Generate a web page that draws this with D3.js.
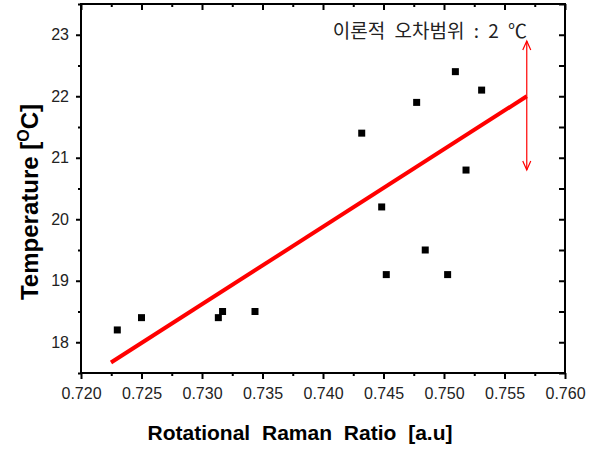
<!DOCTYPE html>
<html>
<head>
<meta charset="utf-8">
<script src="https://cdn.jsdelivr.net/npm/d3@7"></script>
<style>
  body { margin:0; background:#fff; }
  svg text { font-family: "Liberation Sans", Arial, sans-serif; }
</style>
</head>
<body>
<div id="chart"></div>
<script>
// Rotational Raman Ratio vs. Temperatur – Streudiagramm mit Fit-Gerade
const ratio = [0.7230, 0.7250, 0.73135, 0.7317, 0.73438, 0.7432, 0.74485, 0.74523,
               0.74774, 0.74845, 0.7503, 0.75094, 0.75182, 0.75311];
const temp  = [18.2, 18.4, 18.4, 18.5, 18.5, 21.4, 20.2, 19.1,
               21.9, 19.5, 19.1, 22.4, 20.8, 22.1];

const fitX = [0.72248, 0.75684];
const fitY = [17.67, 22.0];

const errX  = 0.75684;
const errY  = [20.8, 22.9];
const errLabel = '이론적 오차범위 : 2 ℃';

const xTicks = [0.720, 0.725, 0.730, 0.735, 0.740, 0.745, 0.750, 0.755, 0.760];
const yTicks = [18, 19, 20, 21, 22, 23];
const xMinor = [0.7225, 0.7275, 0.7325, 0.7375, 0.7425, 0.7475, 0.7525, 0.7575];
const yMinor = [17.5, 18.5, 19.5, 20.5, 21.5, 22.5, 23.5];

const W = 597, H = 449;
const L = 81, R = 565, T = 4, B = 373;

const svg = d3.select('#chart').append('svg')
  .attr('width', W).attr('height', H);

const x = d3.scaleLinear().domain([0.720, 0.760]).range([L, R]);
const y = d3.scaleLinear().domain([17.5, 23.5]).range([B, T]);

// Achsen (links/unten nach außen, oben/rechts nach innen)
function styleAxis(g) {
  g.select('.domain').remove();
  g.selectAll('line').attr('stroke', '#000').attr('stroke-width', 2);
  g.selectAll('text').attr('font-size', 16).attr('fill', '#222');
}

svg.append('g').attr('transform', `translate(0,${B})`)
  .call(d3.axisBottom(x).tickValues(xTicks).tickSize(6).tickPadding(9).tickFormat(d3.format('.3f')))
  .call(styleAxis);
svg.append('g').attr('transform', `translate(0,${B})`)
  .call(d3.axisBottom(x).tickValues(xMinor).tickSize(3).tickFormat(''))
  .call(styleAxis);

svg.append('g').attr('transform', `translate(${L},0)`)
  .call(d3.axisLeft(y).tickValues(yTicks).tickSize(5).tickPadding(7).tickFormat(d3.format('d')))
  .call(styleAxis);
svg.append('g').attr('transform', `translate(${L},0)`)
  .call(d3.axisLeft(y).tickValues(yMinor).tickSize(3).tickFormat(''))
  .call(styleAxis);

svg.append('g').attr('transform', `translate(0,${T})`)
  .call(d3.axisBottom(x).tickValues(xTicks).tickSize(6).tickFormat(''))
  .call(styleAxis);
svg.append('g').attr('transform', `translate(0,${T})`)
  .call(d3.axisBottom(x).tickValues(xMinor).tickSize(3).tickFormat(''))
  .call(styleAxis);

svg.append('g').attr('transform', `translate(${R},0)`)
  .call(d3.axisLeft(y).tickValues(yTicks.concat(yMinor)).tickSize(6).tickFormat(''))
  .call(styleAxis);

// Rahmen
svg.append('rect')
  .attr('x', L).attr('y', T).attr('width', R - L).attr('height', B - T)
  .attr('fill', 'none').attr('stroke', '#000').attr('stroke-width', 2);

// Fit-Gerade
svg.append('line')
  .attr('x1', x(fitX[0])).attr('y1', y(fitY[0]))
  .attr('x2', x(fitX[1])).attr('y2', y(fitY[1]))
  .attr('stroke', '#ff0000').attr('stroke-width', 4);

// Messpunkte
svg.selectAll('rect.pt')
  .data(d3.zip(ratio, temp))
  .enter().append('rect')
    .attr('class', 'pt')
    .attr('x', d => x(d[0]) - 3.5)
    .attr('y', d => y(d[1]) - 3.5)
    .attr('width', 7).attr('height', 7)
    .attr('fill', '#000');

// Fehlerbereich-Pfeil
const ax = x(errX), ay0 = y(errY[0]), ay1 = y(errY[1]);
svg.append('line')
  .attr('x1', ax).attr('y1', ay0).attr('x2', ax).attr('y2', ay1)
  .attr('stroke', '#ff0000').attr('stroke-width', 1.2);
svg.append('path')
  .attr('d', `M${ax-4},${ay1+9}L${ax},${ay1}L${ax+4},${ay1+9}M${ax-4},${ay0-9}L${ax},${ay0}L${ax+4},${ay0-9}`)
  .attr('fill', 'none').attr('stroke', '#ff0000').attr('stroke-width', 1.2);

svg.append('text')
  .attr('x', 527).attr('y', 38)
  .attr('text-anchor', 'end')
  .style('font-family', '"Noto Sans CJK KR", sans-serif')
  .attr('font-size', 19).attr('fill', '#222')
  .attr('word-spacing', 5)
  .text(errLabel);

// Achsentitel
svg.append('text')
  .attr('x', 300).attr('y', 440)
  .attr('text-anchor', 'middle')
  .attr('font-size', 21).attr('font-weight', 'bold')
  .attr('word-spacing', 6)
  .text('Rotational Raman Ratio [a.u]');

const yl = svg.append('text')
  .attr('transform', 'translate(38,202) rotate(-90)')
  .attr('text-anchor', 'middle')
  .attr('font-size', 24).attr('font-weight', 'bold');
yl.append('tspan').text('Temperature [');
yl.append('tspan').attr('font-size', 16).attr('dy', -9).text('O');
yl.append('tspan').attr('dy', 9).text('C]');
</script>
</body>
</html>
